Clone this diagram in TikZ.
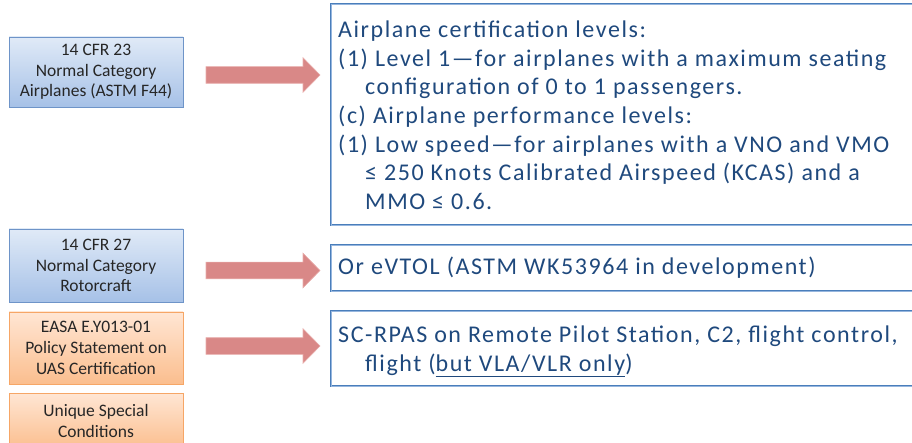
\documentclass[tikz,border=0pt]{standalone}
\usepackage{fontspec}
\setmainfont{Carlito}
\newfontfamily\widefont[LetterSpace=6.5]{Carlito}
\usetikzlibrary{shadows,calc}

\definecolor{navytext}{RGB}{31,73,125}
\definecolor{greytext}{RGB}{38,38,38}
\definecolor{frameblue}{RGB}{74,126,187}
\definecolor{framelight}{RGB}{150,182,222}
\definecolor{arrowred}{RGB}{217,136,135}
\definecolor{arrowedge}{RGB}{232,172,170}
\definecolor{bluetop}{RGB}{224,234,247}
\definecolor{bluebot}{RGB}{166,193,231}
\definecolor{blueline}{RGB}{110,148,200}
\definecolor{orangetop}{RGB}{255,230,212}
\definecolor{orangebot}{RGB}{251,190,142}
\definecolor{orangeline}{RGB}{246,166,102}

\tikzset{
  srcbox/.style={rectangle, minimum width=174pt, inner sep=0pt, align=center,
    text=greytext, font=\fontsize{17.5}{20.7}\selectfont, line width=0.9pt,
    drop shadow={opacity=0.22, shadow xshift=0.8pt, shadow yshift=-1.4pt}},
  bluebox/.style={srcbox, draw=blueline, top color=bluetop, bottom color=bluebot},
  orangebox/.style={srcbox, draw=orangeline, top color=orangetop, bottom color=orangebot},
  framebox/.style={draw=frameblue, line width=2.4pt},
  frameinner/.style={draw=framelight, line width=0.6pt},
  notetext/.style={inner sep=0pt, align=left, text=navytext,
    font=\widefont\fontsize{24}{28.7}\selectfont},
  blockarrow/.style={fill=arrowred, draw=arrowedge, line width=0.6pt},
}

\begin{document}
\begin{tikzpicture}[x=1pt,y=-1pt]
  \useasboundingbox (0,0) rectangle (912,443);
  \clip (0,0) rectangle (912,443);

  % source boxes on the left
  \node[bluebox, minimum height=70pt] (cfr23) at (96,72)
    {14 CFR 23\\Normal Category\\Airplanes (ASTM F44)};
  \node[bluebox, minimum height=73pt] (cfr27) at (96,265.5)
    {14 CFR 27\\Normal Category\\Rotorcraft};
  \node[orangebox, minimum height=72pt] (easa) at (96,348)
    {EASA E.Y013-01\\Policy Statement on\\UAS Certification};
  \node[orangebox, minimum height=56pt] (usc) at (96,421)
    {Unique Special\\Conditions};

  % note frames on the right (open to the right edge)
  \foreach \name/\top/\bot in {levels/4/225, evtol/245/291, rpas/311/386} {
    \coordinate (\name-nw) at (331,\top);
    \coordinate (\name-se) at (940,\bot);
    \draw[framebox] (\name-nw) rectangle (\name-se);
    \draw[frameinner] (\name-nw) rectangle (\name-se);
  }

  \node[notetext, anchor=north west] (levelstext) at (338,20.5)
    {Airplane certification levels:\\
     (1) Level 1—for airplanes with a maximum seating\\
     \hspace*{27pt}configuration of 0 to 1 passengers.\\
     (c) Airplane performance levels:\\
     (1) Low speed—for airplanes with a VNO and VMO\\
     \hspace*{27pt}≤ 250 Knots Calibrated Airspeed (KCAS) and a\\
     \hspace*{27pt}MMO ≤ 0.6.};
  \node[notetext, anchor=mid west] (evtoltext) at (338,272.5)
    {Or eVTOL (ASTM WK53964 in development)};
  \node[notetext, anchor=north west] (rpastext) at (338,325.5)
    {SC-RPAS on Remote Pilot Station, C2, flight control,\\
     \hspace*{27pt}flight (\underline{but VLA/VLR only})};

  % block arrows from the sources to the notes
  \foreach \name/\yc in {arrowA/75, arrowB/270.5, arrowC/346} {
    \coordinate (\name-tail) at (206,\yc);
    \coordinate (\name-tip) at (320,\yc);
    \fill[blockarrow]
      ($(\name-tail)+(0,-8.3)$) -- ($(\name-tip)+(-17,-8.3)$) -- ($(\name-tip)+(-17,-17.3)$)
      -- (\name-tip) -- ($(\name-tip)+(-17,17.3)$) -- ($(\name-tip)+(-17,8.3)$)
      -- ($(\name-tail)+(0,8.3)$) -- cycle;
  }
\end{tikzpicture}
\end{document}
